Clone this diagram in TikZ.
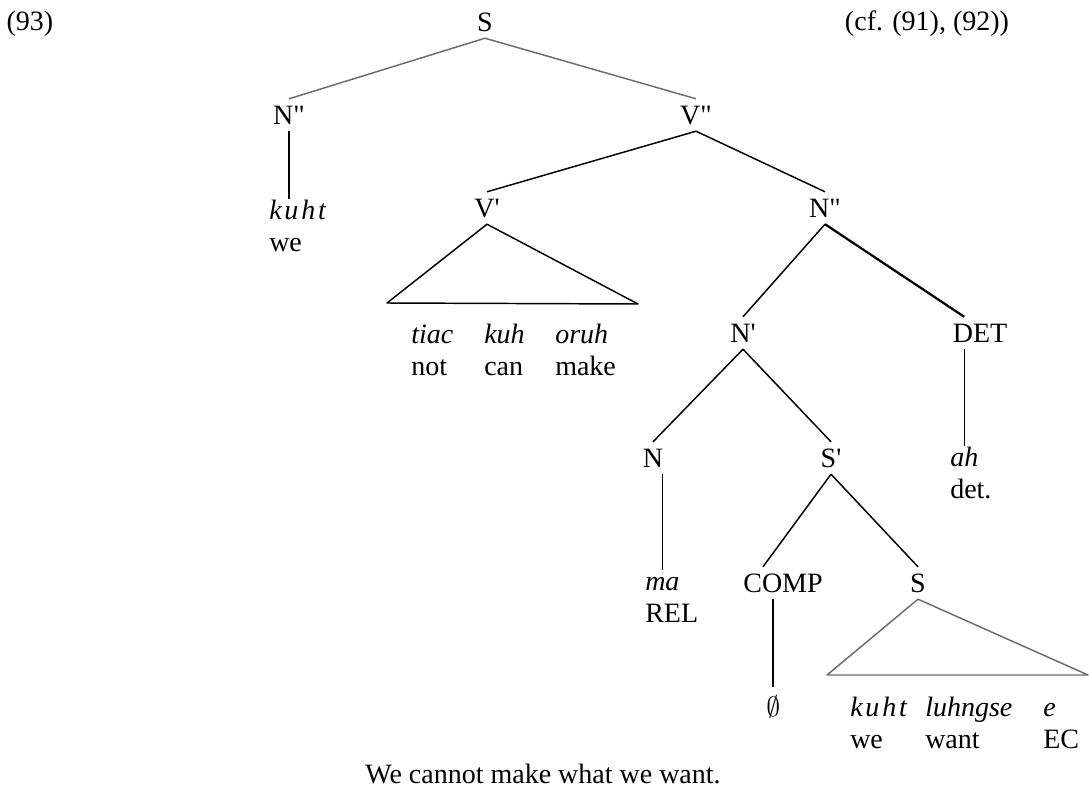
\documentclass[tikz,border=0pt]{standalone}
\usepackage{fontspec}
\setmainfont{Liberation Serif}[Ligatures=TeXOff]
\usetikzlibrary{
  positioning,  % Function "of" (e.g. [below=of x])
}
\def\myglossdist{5pt}
\tikzset{
  font=\fontsize{21}{24}\selectfont,
  x=0.75pt,
  y=-0.75pt,
  my line/.style={
    line width=1.1pt,
    line join=round
  },
  my thick line/.style={
    my line,
    line width=1.7pt
  },
  my gray line/.style={
    my line,
    draw=black!58
  },
  my cat/.style={
    inner xsep=1pt,
    inner ysep=5pt,
    text height=13.9pt,
    text depth=0pt
  },
  my word/.style={
    font=\fontsize{21}{24}\selectfont\itshape,
    inner sep=0pt,
    text height=14.5pt,
    text depth=4.5pt,
    anchor=base west
  },
  my spaced/.style={
    font=\fontsize{21}{24}\selectfont\itshape\addfontfeatures{LetterSpace=10}
  },
  my gloss/.style={
    inner sep=0pt,
    text height=14.5pt,
    text depth=4.5pt
  },
  gloss of/.style={
    below=\myglossdist of #1.south west,
    anchor=north west
  }
}

\begin{document}
\begin{tikzpicture}
\useasboundingbox (0,0) rectangle (1089,792);
% categories
\node[my cat] (S)     at (485,22)  {S};
\node[my cat] (Nbar2) at (289,115) {N"};
\node[my cat] (Vbar2) at (696,115) {V"};
\node[my cat] (Vbar)  at (487,208) {V'};
\node[my cat] (NbarR) at (825,208) {N"};
\node[my cat] (Nbar)  at (743,333) {N'};
\node[my cat] (DET)   at (980,333) {DET};
\node[my cat] (N)     at (653,458) {N};
\node[my cat] (Sbar)  at (831,458) {S'};
\node[my cat] (COMP)  at (783,583) {COMP};
\node[my cat] (Slow)  at (918,583) {S};
% words and glosses
\node[my word,my spaced] (kuhtA) at (269,219) {kuht};
\node[my gloss] (weA) [gloss of=kuhtA] {we};
\node[my word] (tiac) at (411,343) {tiac};
\node[my gloss] (not) [gloss of=tiac] {not};
\node[my word] (kuh) at (484,343) {kuh};
\node[my gloss] (can) [gloss of=kuh] {can};
\node[my word] (oruh) at (555,343) {oruh};
\node[my gloss] (make) [gloss of=oruh] {make};
\node[my word] (ah) at (950,466) {ah};
\node[my gloss] (det) [gloss of=ah] {det.};
\node[my word] (ma) at (645,590) {ma};
\node[my gloss] (REL) [gloss of=ma] {REL};
\node[my word] (empty) at (766,716) {$\emptyset$};
\node[my word,my spaced] (kuhtB) at (850,716) {kuht};
\node[my gloss] (weB) [gloss of=kuhtB] {we};
\node[my word] (luhngse) at (925,716) {luhngse};
\node[my gloss] (want) [gloss of=luhngse] {want};
\node[my word] (e) at (1043,716) {e};
\node[my gloss] (EC) [gloss of=e] {EC};
% triangle corners
\coordinate (VbarL) at (387,303);
\coordinate (VbarR) at (638,304);
\coordinate (SlowL) at (827,675);
\coordinate (SlowR) at (1088,675);
% branches
\draw[my gray line] (S.south) -- (Nbar2.north);
\draw[my gray line] (S.south) -- (Vbar2.north);
\draw[my line] (Nbar2.south) -- (Nbar2.south |- kuhtA.north);
\draw[my line] (Vbar2.south) -- (Vbar.north);
\draw[my line] (Vbar2.south) -- (NbarR.north);
\draw[my line] (Vbar.south) -- (VbarL) -- (VbarR) -- cycle;
\draw[my line] (NbarR.south) -- (Nbar.north);
\draw[my thick line] (NbarR.south) -- (DET.north -| ah.north);
\draw[my line] (DET.south -| ah.north) -- (ah.north);
\draw[my line] (Nbar.south) -- (N.north);
\draw[my line] (Nbar.south) -- (Sbar.north);
\draw[my line] (N.south -| ma.north) -- (ma.north);
\draw[my line] (Sbar.south) -- ([xshift=-15pt]COMP.north);
\draw[my line] (Sbar.south) -- (Slow.north);
\draw[my line] (COMP.south -| empty.north) -- ([yshift=7pt]empty.north);
\draw[my gray line] (Slow.south) -- (SlowL) -- (SlowR) -- cycle;
% example number, reference and translation
\node[anchor=base] (num) at (30,31) {(93)};
\node[anchor=base] (cf) at (927,31) {(cf. (91), (92))};
\node[anchor=base] (trans) at (543,783) {We cannot make what we want.};
\end{tikzpicture}
\end{document}
